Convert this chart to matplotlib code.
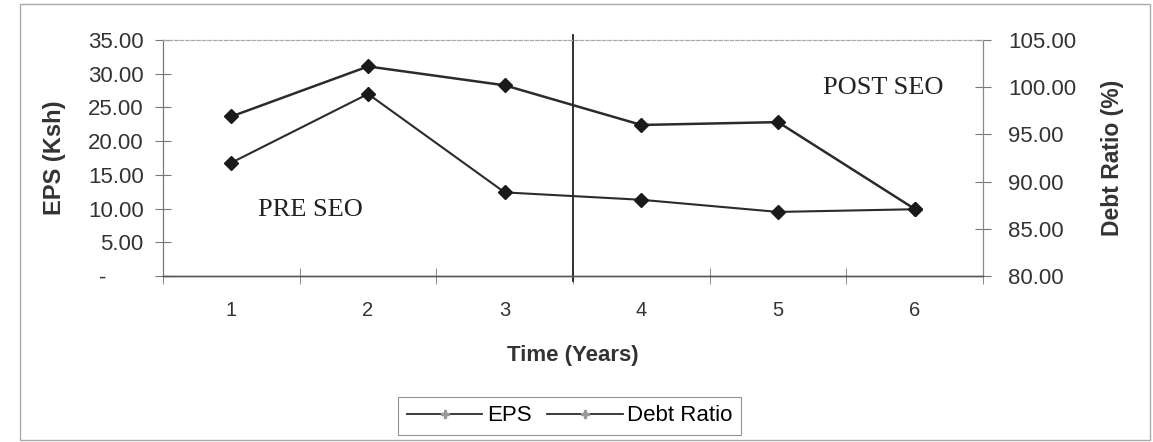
import matplotlib
matplotlib.use("Agg")
import matplotlib.pyplot as plt
from matplotlib.lines import Line2D
from matplotlib.patches import Rectangle

years = [1, 2, 3, 4, 5, 6]
eps = [16.8, 27.0, 12.4, 11.3, 9.5, 9.9]
debt_ratio = [96.9, 102.2, 100.2, 96.0, 96.3, 87.1]
eps_ticks = [0, 5, 10, 15, 20, 25, 30, 35]
eps_ticklabels = ["-      ", "5.00", "10.00", "15.00", "20.00", "25.00", "30.00", "35.00"]
debt_ticks = [80, 85, 90, 95, 100, 105]
debt_ticklabels = ["80.00", "85.00", "90.00", "95.00", "100.00", "105.00"]

sans = ["Liberation Sans", "DejaVu Sans"]
serif = ["Liberation Serif", "DejaVu Serif"]

fig = plt.figure(figsize=(11.53, 4.42), dpi=100)
ax = fig.add_axes([0.1414, 0.3756, 0.7112, 0.5339])
ax2 = ax.twinx()

line_c = "#2b2b2b"
ax.plot(years, eps, color=line_c, lw=1.5, marker="D", ms=7.5, mfc="#1a1a1a", mec="#1a1a1a", zorder=3)
ax2.plot(years, debt_ratio, color=line_c, lw=1.8, marker="D", ms=7.5, mfc="#1a1a1a", mec="#1a1a1a", zorder=3)

ax.set_xlim(0.5, 6.5)
ax.set_ylim(0, 35)
ax2.set_ylim(80, 105)

ax.set_xticks(years)
ax.set_xticklabels([str(y) for y in years], fontsize=14.5, family=sans, color="#333333")
ax.set_xticks([x + 0.5 for x in range(0, 7)], minor=True)
ax.tick_params(axis="x", which="major", length=0, pad=18)
ax.tick_params(axis="x", which="minor", length=12, direction="inout", color="#777777")

ax.set_yticks(eps_ticks)
ax.set_yticklabels(eps_ticklabels, fontsize=16, family=sans, color="#333333")
ax.tick_params(axis="y", length=12, direction="inout", color="#777777", pad=8)

ax2.set_yticks(debt_ticks)
ax2.set_yticklabels(debt_ticklabels, fontsize=16, family=sans, color="#333333")
ax2.tick_params(axis="y", length=12, direction="inout", color="#777777", pad=12)

for a in (ax, ax2):
    a.spines["top"].set_color("#aaaaaa")
    a.spines["top"].set_linestyle((0, (3, 2)))
    a.spines["top"].set_linewidth(0.8)
    a.spines["left"].set_color("#777777")
    a.spines["left"].set_linewidth(0.8)
    a.spines["right"].set_color("#888888")
    a.spines["right"].set_linewidth(0.8)
    a.spines["bottom"].set_color("#555555")
    a.spines["bottom"].set_linewidth(1.0)

ax.axvline(3.5, ymin=-0.02, ymax=1.02, color="#222222", lw=1.3, clip_on=False)

ax.text(1.58, 9.8, "PRE SEO", fontsize=19, family=serif, color="#222222", ha="center", va="center")
ax.text(5.77, 27.9, "POST SEO", fontsize=19, family=serif, color="#222222", ha="center", va="center")

ax.set_ylabel("EPS (Ksh)", fontsize=17, fontweight="bold", family=sans, color="#333333", labelpad=16)
ax2.set_ylabel("Debt Ratio (%)", fontsize=16.5, fontweight="bold", family=sans, color="#333333", labelpad=18)
ax.set_xlabel("Time (Years)", fontsize=16, fontweight="bold", family=sans, color="#333333", labelpad=18)

handles = [
    Line2D([], [], color=line_c, lw=1.3, marker="P", ms=6, mfc="#999999", mec="#999999"),
    Line2D([], [], color=line_c, lw=1.3, marker="P", ms=6, mfc="#999999", mec="#999999"),
]
leg = fig.legend(handles, ["EPS", "Debt Ratio"], loc="center", bbox_to_anchor=(0.494, 0.059),
                 ncol=2, frameon=True, fancybox=False, handlelength=3.4, handletextpad=0.2,
                 columnspacing=0.7, borderpad=0.4, prop={"family": sans, "size": 16})
leg.get_frame().set_edgecolor("#777777")
leg.get_frame().set_linewidth(0.8)

fig.patches.append(Rectangle((0.017, 0.004), 0.98, 0.988, transform=fig.transFigure,
                             fill=False, edgecolor="#aaaaaa", lw=1.0))

fig.savefig("out.png", dpi=100)
